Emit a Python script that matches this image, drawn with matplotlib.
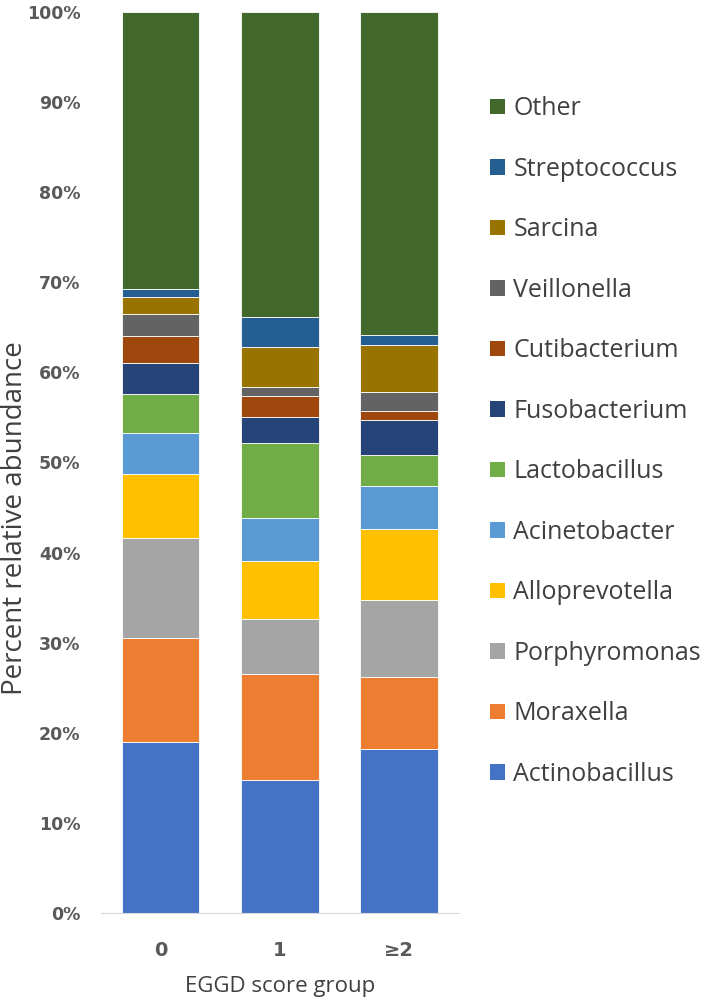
import numpy as np
import matplotlib
matplotlib.use("Agg")
import matplotlib.pyplot as plt
from matplotlib.patches import Patch

# EGGD score groups
groups = ['0', '1', '≥2']

taxa = ['Actinobacillus', 'Moraxella', 'Porphyromonas', 'Alloprevotella',
        'Acinetobacter', 'Lactobacillus', 'Fusobacterium', 'Cutibacterium',
        'Veillonella', 'Sarcina', 'Streptococcus', 'Other']

# percent relative abundance per taxon, one value per group
actinobacillus = [19.0, 14.8, 18.2]
moraxella = [11.5, 11.7, 8.0]
porphyromonas = [11.1, 6.1, 8.5]
alloprevotella = [7.1, 6.5, 7.9]
acinetobacter = [4.6, 4.7, 4.8]
lactobacillus = [4.3, 8.4, 3.4]
fusobacterium = [3.4, 2.8, 3.9]
cutibacterium = [3.0, 2.4, 1.0]
veillonella = [2.5, 1.0, 2.1]
sarcina = [1.9, 4.4, 5.2]
streptococcus = [0.9, 3.3, 1.1]
other = [30.7, 33.9, 35.9]

colors = ['#4472C4', '#ED7D31', '#A5A5A5', '#FFC000', '#5B9BD5', '#70AD47',
          '#264478', '#9E480E', '#636363', '#997300', '#255E91', '#43682B']

series = [actinobacillus, moraxella, porphyromonas, alloprevotella, acinetobacter,
          lactobacillus, fusobacterium, cutibacterium, veillonella, sarcina,
          streptococcus, other]

fig = plt.figure(figsize=(7.09, 9.98), dpi=100)
ax = fig.add_axes([0.1425, 0.0852, 0.5045, 0.9028])

x = np.arange(len(groups))
bottom = np.zeros(len(groups))
for vals, col in zip(series, colors):
    ax.bar(x, vals, 0.65, bottom=bottom, color=col, edgecolor='white', linewidth=0.6)
    bottom += np.array(vals)

ax.set_xlim(-0.5, 2.5)
ax.set_ylim(0, 100)
ax.set_yticks(np.arange(0, 101, 10))
ax.set_yticklabels([f'{v}%' for v in range(0, 101, 10)])
ax.set_xticks(x)
ax.set_xticklabels(groups)
ax.tick_params(length=0)
for lab in ax.get_yticklabels():
    lab.set_fontweight('bold'); lab.set_color('#595959'); lab.set_fontsize(12.5)
for lab in ax.get_xticklabels():
    lab.set_fontweight('bold'); lab.set_color('#595959'); lab.set_fontsize(14)
ax.tick_params(axis='y', pad=15)
ax.tick_params(axis='x', pad=20)

for s in ['top', 'right', 'left']:
    ax.spines[s].set_visible(False)
ax.spines['bottom'].set_color('#D9D9D9')

ax.set_xlabel('EGGD score group', fontsize=16, color='#404040', labelpad=12,
              family=['Open Sans', 'DejaVu Sans'])
fig.text(15 / 709, 1 - 518 / 998, 'Percent relative abundance', rotation=90,
         ha='center', va='center', fontsize=20, color='#404040',
         family=['Open Sans', 'DejaVu Sans'])

handles = [Patch(facecolor=c, label=t) for t, c in zip(taxa, colors)][::-1]
fig.legend(handles=handles, loc='upper left', bbox_to_anchor=(0.659, 0.926),
           frameon=False, labelspacing=1.42, handlelength=0.6,
           handleheight=0.6, handletextpad=0.35,
           prop={'family': ['Open Sans', 'DejaVu Sans'], 'size': 18},
           labelcolor='#404040')

fig.savefig('out.png', dpi=100)
